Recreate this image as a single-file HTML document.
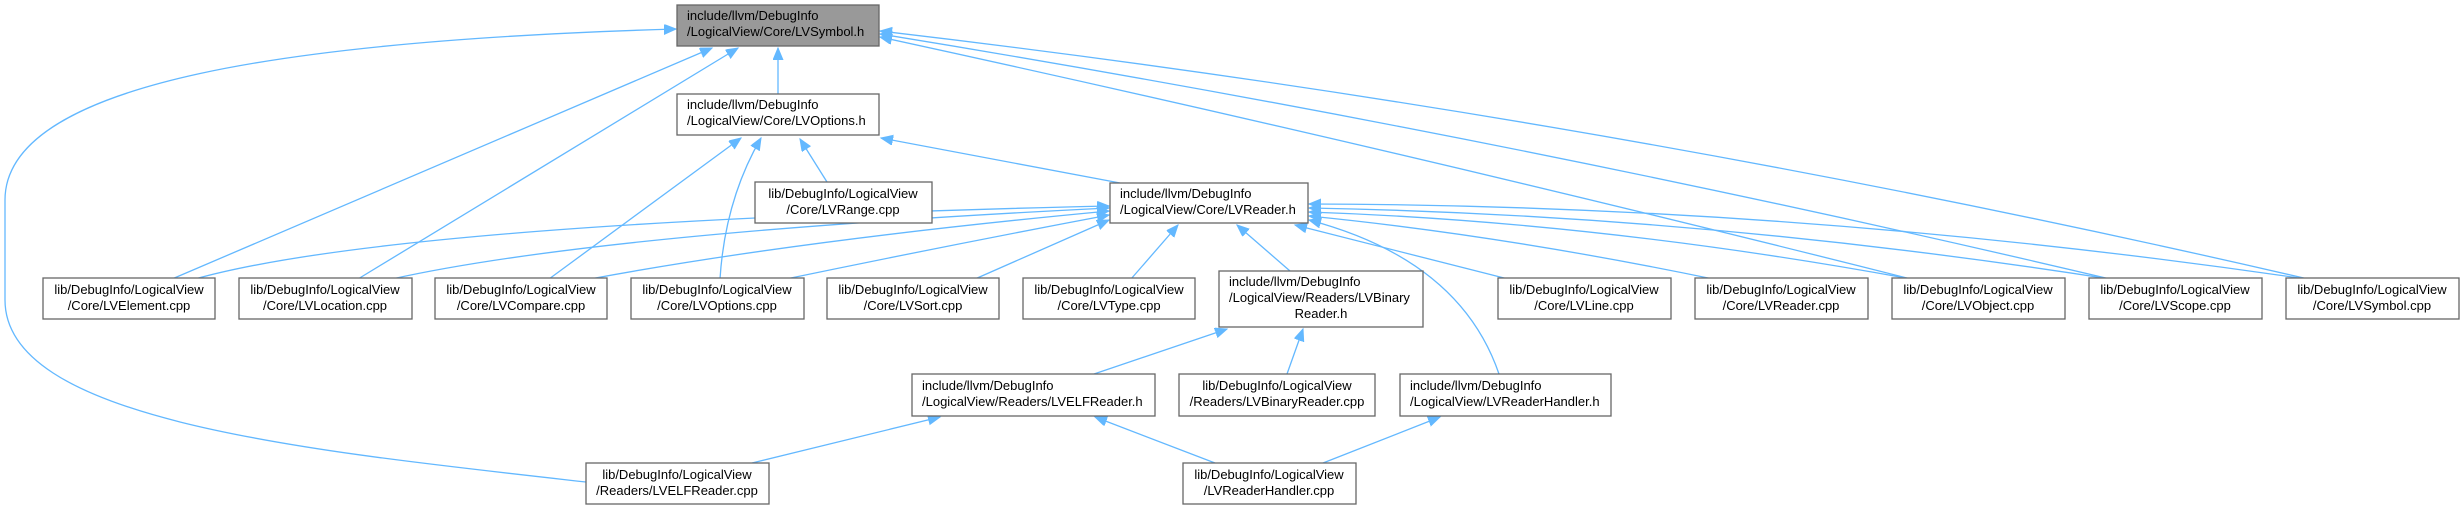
<!DOCTYPE html>
<html><head><meta charset="utf-8"><style>
html,body{margin:0;padding:0;background:#fff;}
svg{display:block;}
text{font-family:"Liberation Sans",sans-serif;font-size:13px;fill:#000;}
.b{fill:#fff;stroke:#666;stroke-width:1.3;}
.e{fill:none;stroke:#63b8ff;stroke-width:1.3;marker-end:url(#a);}
</style></head><body>
<svg width="2461" height="510" viewBox="0 0 2461 510" xmlns="http://www.w3.org/2000/svg">
<defs><marker id="a" markerUnits="userSpaceOnUse" markerWidth="14" markerHeight="12" refX="12" refY="5" orient="auto"><path d="M0,0 L12,5 L0,10 z" fill="#63b8ff" stroke="#63b8ff"/></marker></defs>

<!-- edges -->
<path class="e" d="M778,94 L778,48"/>
<path class="e" d="M172,279 L712,48"/>
<path class="e" d="M358,279 L738,48"/>
<path class="e" d="M586,482 C300,450 5,420 5,300 L5,200 C5,80 300,40 676,29"/>
<path class="e" d="M1911,279 Q1400,150 880,37"/>
<path class="e" d="M2110,279 Q1500,135 880,34"/>
<path class="e" d="M2308,279 Q1600,115 880,31"/>
<path class="e" d="M1120,183 L881,138"/>
<path class="e" d="M827,182 L800,139"/>
<path class="e" d="M549,279 L741,138"/>
<path class="e" d="M720,279 Q725,200 761,138"/>
<path class="e" d="M195,279 Q400,222 1109,206"/>
<path class="e" d="M392,279 Q600,233 1109,208"/>
<path class="e" d="M590,279 Q800,240 1109,211"/>
<path class="e" d="M786,279 Q950,245 1109,215"/>
<path class="e" d="M975,279 L1109,220"/>
<path class="e" d="M1131,279 L1178,225"/>
<path class="e" d="M1290,271 L1237,225"/>
<path class="e" d="M1508,279 L1295,225"/>
<path class="e" d="M1499,374 Q1460,260 1309,220"/>
<path class="e" d="M1713,279 Q1500,235 1309,216"/>
<path class="e" d="M1911,279 Q1600,222 1309,212"/>
<path class="e" d="M2110,279 Q1700,215 1309,208"/>
<path class="e" d="M2306,279 Q1800,205 1309,204"/>
<path class="e" d="M1094,374 L1227,329"/>
<path class="e" d="M1287,374 L1303,329"/>
<path class="e" d="M752,463 L940,417"/>
<path class="e" d="M1215,463 L1095,417"/>
<path class="e" d="M1323,463 L1440,417"/>

<!-- nodes -->
<rect x="677" y="5" width="202" height="41" fill="#999" stroke="#666" stroke-width="1.3"/>
<text x="687" y="20">include/llvm/DebugInfo</text><text x="687" y="36">/LogicalView/Core/LVSymbol.h</text>

<rect class="b" x="677" y="94" width="202" height="41"/>
<text x="687" y="109">include/llvm/DebugInfo</text><text x="687" y="125">/LogicalView/Core/LVOptions.h</text>

<rect class="b" x="755" y="182" width="177" height="41"/>
<text x="843" y="198" text-anchor="middle">lib/DebugInfo/LogicalView</text><text x="843" y="214" text-anchor="middle">/Core/LVRange.cpp</text>

<rect class="b" x="1110" y="183" width="198" height="40"/>
<text x="1120" y="198">include/llvm/DebugInfo</text><text x="1120" y="214">/LogicalView/Core/LVReader.h</text>

<g text-anchor="middle">
<rect class="b" x="43" y="278" width="172" height="41"/><text x="129" y="294">lib/DebugInfo/LogicalView</text><text x="129" y="310">/Core/LVElement.cpp</text>
<rect class="b" x="239" y="278" width="173" height="41"/><text x="325" y="294">lib/DebugInfo/LogicalView</text><text x="325" y="310">/Core/LVLocation.cpp</text>
<rect class="b" x="435" y="278" width="172" height="41"/><text x="521" y="294">lib/DebugInfo/LogicalView</text><text x="521" y="310">/Core/LVCompare.cpp</text>
<rect class="b" x="631" y="278" width="173" height="41"/><text x="717" y="294">lib/DebugInfo/LogicalView</text><text x="717" y="310">/Core/LVOptions.cpp</text>
<rect class="b" x="827" y="278" width="172" height="41"/><text x="913" y="294">lib/DebugInfo/LogicalView</text><text x="913" y="310">/Core/LVSort.cpp</text>
<rect class="b" x="1023" y="278" width="172" height="41"/><text x="1109" y="294">lib/DebugInfo/LogicalView</text><text x="1109" y="310">/Core/LVType.cpp</text>
<rect class="b" x="1498" y="278" width="173" height="41"/><text x="1584" y="294">lib/DebugInfo/LogicalView</text><text x="1584" y="310">/Core/LVLine.cpp</text>
<rect class="b" x="1695" y="278" width="173" height="41"/><text x="1781" y="294">lib/DebugInfo/LogicalView</text><text x="1781" y="310">/Core/LVReader.cpp</text>
<rect class="b" x="1892" y="278" width="173" height="41"/><text x="1978" y="294">lib/DebugInfo/LogicalView</text><text x="1978" y="310">/Core/LVObject.cpp</text>
<rect class="b" x="2089" y="278" width="173" height="41"/><text x="2175" y="294">lib/DebugInfo/LogicalView</text><text x="2175" y="310">/Core/LVScope.cpp</text>
<rect class="b" x="2286" y="278" width="173" height="41"/><text x="2372" y="294">lib/DebugInfo/LogicalView</text><text x="2372" y="310">/Core/LVSymbol.cpp</text>
<rect class="b" x="1179" y="374" width="196" height="42"/><text x="1277" y="390">lib/DebugInfo/LogicalView</text><text x="1277" y="406">/Readers/LVBinaryReader.cpp</text>
<rect class="b" x="586" y="463" width="183" height="41"/><text x="677" y="479">lib/DebugInfo/LogicalView</text><text x="677" y="495">/Readers/LVELFReader.cpp</text>
<rect class="b" x="1183" y="463" width="173" height="41"/><text x="1269" y="479">lib/DebugInfo/LogicalView</text><text x="1269" y="495">/LVReaderHandler.cpp</text>
</g>

<rect class="b" x="1219" y="271" width="204" height="56"/>
<text x="1229" y="286">include/llvm/DebugInfo</text><text x="1229" y="302">/LogicalView/Readers/LVBinary</text><text x="1321" y="318" text-anchor="middle">Reader.h</text>

<rect class="b" x="912" y="374" width="243" height="42"/>
<text x="922" y="390">include/llvm/DebugInfo</text><text x="922" y="406">/LogicalView/Readers/LVELFReader.h</text>

<rect class="b" x="1400" y="374" width="211" height="42"/>
<text x="1410" y="390">include/llvm/DebugInfo</text><text x="1410" y="406">/LogicalView/LVReaderHandler.h</text>
</svg>
</body></html>
